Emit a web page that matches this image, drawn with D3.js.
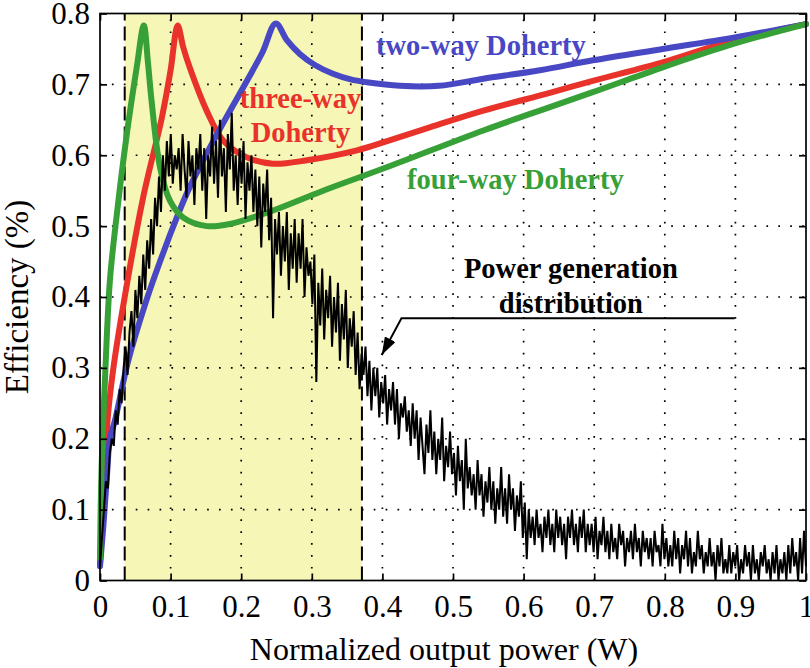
<!DOCTYPE html>
<html><head><meta charset="utf-8">
<script src="https://cdn.jsdelivr.net/npm/d3@7"></script>
<style>
html,body{margin:0;padding:0;background:#fff;}
svg{display:block;font-family:"Liberation Serif","Times New Roman",serif;}
</style></head>
<body><svg id="c" width="810" height="668"></svg>
<script>
// ---------- data ----------
const xTicks = [0,0.1,0.2,0.3,0.4,0.5,0.6,0.7,0.8,0.9,1];
const xTickLabels = ["0","0.1","0.2","0.3","0.4","0.5","0.6","0.7","0.8","0.9","1"];
const yTicks = [0,0.1,0.2,0.3,0.4,0.5,0.6,0.7,0.8];
const yTickLabels = ["0","0.1","0.2","0.3","0.4","0.5","0.6","0.7","0.8"];
const shadedRange = [0.035, 0.371];

const twoWayX = [0,0.005,0.01,0.014,0.021,0.04,0.064,0.085,0.11,0.127,0.166,0.203,0.23,0.249,0.265,0.283,0.305,0.33,0.355,0.378,0.425,0.48,0.543,0.623,0.698,0.797,0.897,1.0];
const twoWayY = [0.02,0.08,0.15,0.2,0.225,0.31,0.39,0.45,0.515,0.555,0.63,0.696,0.745,0.786,0.762,0.743,0.727,0.715,0.707,0.703,0.698,0.698,0.708,0.72,0.734,0.75,0.766,0.785];

const threeWayX = [0,0.005,0.011,0.019,0.035,0.061,0.088,0.1,0.11,0.118,0.127,0.151,0.175,0.208,0.245,0.293,0.364,0.41,0.472,0.543,0.637,0.698,0.797,0.897,1.0];
const threeWayY = [0.024,0.12,0.23,0.3,0.4,0.54,0.655,0.72,0.783,0.752,0.724,0.663,0.62,0.597,0.588,0.593,0.607,0.621,0.641,0.663,0.688,0.705,0.731,0.762,0.785];

const fourWayX = [0,0.002,0.007,0.014,0.024,0.038,0.052,0.062,0.068,0.073,0.085,0.099,0.118,0.151,0.184,0.245,0.316,0.406,0.543,0.623,0.698,0.797,0.897,1.0];
const fourWayY = [0.032,0.15,0.282,0.423,0.518,0.63,0.724,0.783,0.73,0.677,0.583,0.536,0.512,0.50,0.503,0.522,0.55,0.583,0.635,0.663,0.689,0.724,0.757,0.785];

// power generation distribution, evenly spaced samples over output power 0..1
const distribution = [
0.02,0.06,0.10,0.14,0.13,0.18,0.20,0.19,0.24,0.22,
0.27,0.25,0.30,0.33,0.29,0.35,0.38,0.33,0.41,0.37,
0.43,0.39,0.46,0.41,0.48,0.44,0.51,0.46,0.54,0.50,
0.57,0.52,0.60,0.55,0.62,0.57,0.63,0.56,0.60,0.58,
0.61,0.55,0.63,0.58,0.54,0.62,0.57,0.60,0.53,0.61,
0.58,0.63,0.55,0.61,0.51,0.60,0.57,0.64,0.56,0.62,
0.54,0.65,0.57,0.61,0.52,0.63,0.58,0.66,0.55,0.60,
0.53,0.61,0.56,0.62,0.51,0.59,0.55,0.60,0.52,0.58,
0.50,0.57,0.47,0.56,0.52,0.58,0.48,0.54,0.37,0.51,
0.46,0.52,0.43,0.50,0.45,0.52,0.41,0.49,0.44,0.51,
0.42,0.49,0.44,0.51,0.40,0.47,0.43,0.45,0.39,0.46,
0.28,0.42,0.36,0.44,0.34,0.41,0.37,0.43,0.33,0.40,
0.35,0.42,0.31,0.39,0.34,0.41,0.30,0.37,0.33,0.38,
0.29,0.35,0.27,0.32,0.29,0.33,0.26,0.31,0.24,0.30,
0.26,0.30,0.23,0.28,0.25,0.29,0.22,0.27,0.24,0.28,
0.22,0.27,0.20,0.25,0.23,0.26,0.21,0.24,0.19,0.25,
0.20,0.24,0.17,0.23,0.19,0.15,0.22,0.18,0.24,0.17,
0.21,0.15,0.20,0.17,0.23,0.14,0.19,0.16,0.21,0.15,
0.18,0.12,0.19,0.14,0.17,0.10,0.20,0.13,0.16,0.12,
0.15,0.10,0.17,0.12,0.15,0.09,0.14,0.11,0.16,0.10,
0.14,0.08,0.13,0.10,0.16,0.09,0.13,0.08,0.15,0.10,
0.13,0.07,0.12,0.09,0.14,0.06,0.11,0.03,0.10,0.06,
0.09,0.05,0.10,0.06,0.08,0.04,0.09,0.06,0.10,0.05,
0.08,0.04,0.10,0.06,0.09,0.05,0.08,0.03,0.09,0.06,
0.10,0.05,0.08,0.04,0.09,0.06,0.10,0.04,0.08,0.05,
0.08,0.04,0.09,0.03,0.07,0.05,0.09,0.04,0.07,0.03,
0.08,0.04,0.06,0.03,0.08,0.05,0.07,0.02,0.06,0.04,
0.07,0.03,0.08,0.04,0.06,0.02,0.07,0.04,0.06,0.03,
0.06,0.02,0.07,0.04,0.05,0.02,0.08,0.03,0.06,0.02,
0.05,0.02,0.07,0.03,0.06,0.01,0.05,0.03,0.07,0.02,
0.06,0.01,0.04,0.02,0.07,0.03,0.05,0.01,0.04,0.02,
0.06,0.02,0.04,0.00,0.05,0.02,0.06,0.01,0.03,0.01,
0.05,0.01,0.04,0.02,0.05,0.00,0.03,0.01,0.05,0.02,
0.04,0.00,0.05,0.01,0.03,0.00,0.04,0.02,0.05,0.01,
0.03,0.00,0.04,0.01,0.05,0.00,0.03,0.01,0.04,0.00,
0.05,0.01,0.06,0.02,0.04,0.00,0.06,0.01,0.07,0.02
];

const annotationPath = [[0.899,0.37],[0.427,0.37],[0.399,0.318]];

// ---------- drawing ----------
const svg = d3.select("#c");
const x = d3.scaleLinear().domain([0,1]).range([100,806]);
const y = d3.scaleLinear().domain([0,0.8]).range([580.5,13.5]);
const idx = d3.scaleLinear().domain([0, distribution.length-1]).range([0,1]);

const col = {blue:"#4848c4", red:"#e8322a", green:"#37a037"};

// shaded band
svg.append("rect")
  .attr("x", x(shadedRange[0])).attr("y", y(0.8))
  .attr("width", x(shadedRange[1]) - x(shadedRange[0]))
  .attr("height", y(0) - y(0.8))
  .attr("fill", "#f6f6b6");

// grid
const g = svg.append("g");
g.selectAll(".gx").data(xTicks.slice(1,-1)).enter().append("line")
  .attr("x1", d=>x(d)).attr("x2", d=>x(d)).attr("y1", y(0)).attr("y2", y(0.8))
  .attr("stroke","#000").attr("stroke-width",1.7).attr("stroke-dasharray","1.7,10.2");
g.selectAll(".gy").data(yTicks.slice(1,-1)).enter().append("line")
  .attr("y1", d=>y(d)).attr("y2", d=>y(d)).attr("x1", x(0)).attr("x2", x(1))
  .attr("stroke","#000").attr("stroke-width",1.7).attr("stroke-dasharray","1.7,10.2");

// dashed boundaries
svg.selectAll(".dash").data(shadedRange).enter().append("line")
  .attr("x1", d=>x(d)).attr("x2", d=>x(d)).attr("y1", y(0)).attr("y2", y(0.8))
  .attr("stroke","#000").attr("stroke-width",2).attr("stroke-dasharray","14,6");

// curves
const smooth = d3.line().x(d=>x(d[0])).y(d=>y(d[1])).curve(d3.curveCatmullRom.alpha(0.5));
const line = d3.line().x(d=>x(d[0])).y(d=>y(d[1]));
function curve(xs, ys, c){
  svg.append("path").datum(xs.map((v,i)=>[v, ys[i]]))
    .attr("d", smooth).attr("fill","none").attr("stroke", c)
    .attr("stroke-width", 6).attr("stroke-linejoin","round").attr("stroke-linecap","round");
}
curve(threeWayX, threeWayY, col.red);
curve(twoWayX, twoWayY, col.blue);
curve(fourWayX, fourWayY, col.green);

svg.append("path").datum(distribution.map((v,i)=>[idx(i), v]))
  .attr("d", line).attr("fill","none").attr("stroke","#000").attr("stroke-width",2)
  .attr("stroke-linejoin","miter");

// frame and axes
svg.append("rect").attr("x", x(0)).attr("y", y(0.8)).attr("width", x(1)-x(0)).attr("height", y(0)-y(0.8))
  .attr("fill","none").attr("stroke","#000").attr("stroke-width",1.7);

function styleAxis(sel){
  sel.select(".domain").remove();
  sel.selectAll(".tick line").attr("stroke","#000").attr("stroke-width",1.7);
  sel.selectAll(".tick text").attr("fill","#000").attr("font-size","31px")
     .attr("font-family","Liberation Serif, Times New Roman, serif");
}
svg.append("g").attr("transform",`translate(0,${y(0)})`)
  .call(d3.axisBottom(x).tickValues(xTicks).tickSize(-7).tickPadding(14).tickFormat((d,i)=>xTickLabels[i]))
  .call(styleAxis);
svg.append("g").attr("transform",`translate(${x(0)},0)`)
  .call(d3.axisLeft(y).tickValues(yTicks).tickSize(-7).tickPadding(10).tickFormat((d,i)=>yTickLabels[i]))
  .call(styleAxis);
svg.append("g").attr("transform",`translate(0,${y(0.8)})`)
  .call(d3.axisTop(x).tickValues(xTicks).tickSize(-7).tickFormat(""))
  .call(styleAxis);
svg.append("g").attr("transform",`translate(${x(1)},0)`)
  .call(d3.axisRight(y).tickValues(yTicks).tickSize(-7).tickFormat(""))
  .call(styleAxis);

// axis titles
svg.append("text").attr("x", 444).attr("y", 660).attr("text-anchor","middle")
  .attr("font-size","32px").attr("fill","#000").text("Normalized output power (W)");
svg.append("text").attr("transform","translate(28,297) rotate(-90)").attr("text-anchor","middle")
  .attr("font-size","33px").attr("fill","#000").text("Efficiency (%)");

// curve labels
function label(t, xv, yv, c, anchor){
  svg.append("text").attr("x", x(xv)).attr("y", y(yv)).attr("text-anchor", anchor)
    .attr("font-size","28.5px").attr("font-weight","bold").attr("fill", c).text(t);
}
label("two-way Doherty", 0.391, 0.741, col.blue, "start");
label("three-way", 0.284, 0.666, col.red, "middle");
label("Doherty", 0.284, 0.618, col.red, "middle");
label("four-way Doherty", 0.435, 0.553, col.green, "start");
label("Power generation", 0.667, 0.4275, "#000", "middle");
label("distribution", 0.667, 0.378, "#000", "middle");

// annotation arrow
svg.append("defs").append("marker").attr("id","arr")
  .attr("viewBox","0 0 18 12").attr("refX",18).attr("refY",6)
  .attr("markerWidth",18).attr("markerHeight",12)
  .attr("markerUnits","userSpaceOnUse").attr("orient","auto")
  .append("path").attr("d","M0,0 L18,6 L0,12 z").attr("fill","#000");
svg.append("path").datum(annotationPath).attr("d", line)
  .attr("fill","none").attr("stroke","#000").attr("stroke-width",2).attr("marker-end","url(#arr)");
</script></body></html>
